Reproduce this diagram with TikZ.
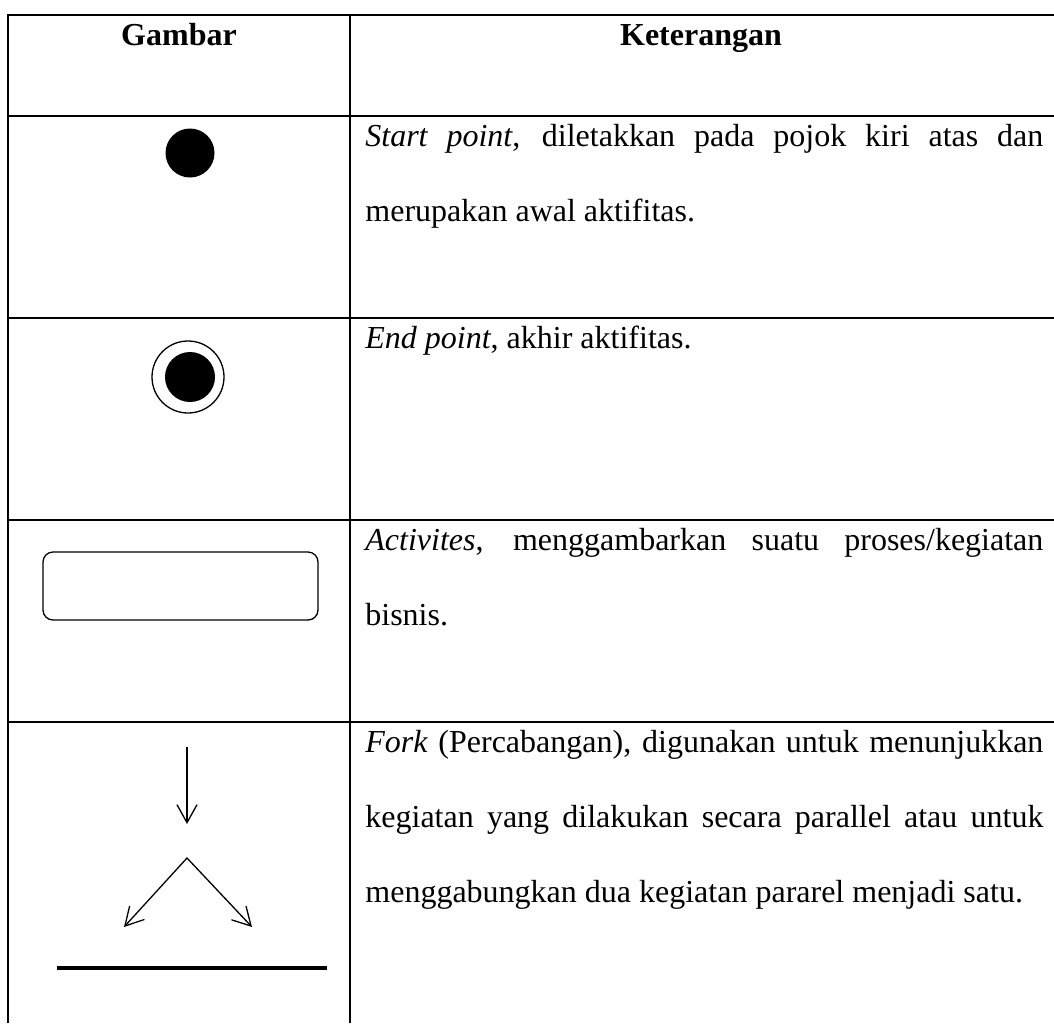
\documentclass[tikz,border=0pt]{standalone}
\usepackage{fontspec}
\setmainfont{Liberation Serif}
\usetikzlibrary{arrows.meta}
\begin{document}
\begin{tikzpicture}[x=0.5pt,y=-0.5pt,
  gridline/.style={line width=1pt, line join=miter},
  shapeline/.style={line width=0.65pt},
  txt/.style={anchor=base west, inner sep=0pt, font=\fontsize{16}{20}\selectfont},
  hdr/.style={anchor=base, inner sep=0pt, font=\fontsize{16}{20}\selectfont\bfseries},
  barb/.tip={Straight Barb[length=9pt,width=10pt,line width=0.65pt]},
  arr/.style={shapeline, -barb},
  twoarr/.style={shapeline, line join=miter, barb-barb}]
\useasboundingbox (0,0) rectangle (1054,1023);
% table grid
\coordinate (tl) at (8,15);
\coordinate (bl) at (8,1023);
\coordinate (tr) at (1054,15);
\coordinate (dt) at (350,15);
\coordinate (db) at (350,1023);
\draw[gridline] (bl) -- (tl) -- (tr);
\draw[gridline] (dt) -- (db);
\foreach \y/\n in {116/a,318/b,520/c,722/d}{
  \coordinate (l\n) at (8,\y);
  \coordinate (r\n) at (1054,\y);
  \draw[gridline] (l\n) -- (r\n);
}
% headers
\node[hdr] (h1) at (179,45) {Gambar};
\node[hdr] (h2) at (701,45) {Keterangan};
% row texts
\node[txt] (t1a) at (365,146) {\makebox[339pt][s]{\textit{Start point}, diletakkan pada pojok kiri atas dan}};
\node[txt] (t1b) at (365,221) {merupakan awal aktifitas.};
\node[txt] (t2a) at (365,348) {\textit{End point}, akhir aktifitas.};
\node[txt] (t3a) at (365,550) {\makebox[339pt][s]{\textit{Activites}, menggambarkan suatu proses/kegiatan}};
\node[txt] (t3b) at (365,625) {bisnis.};
\node[txt] (t4a) at (365,752) {\makebox[339pt][s]{\textit{Fork} (Percabangan), digunakan untuk menunjukkan}};
\node[txt] (t4b) at (365,827) {\makebox[339pt][s]{kegiatan yang dilakukan secara parallel atau untuk}};
\node[txt] (t4c) at (365,902) {menggabungkan dua kegiatan pararel menjadi satu.};
% start point
\node[circle, fill=black, inner sep=0pt, minimum size=24.5pt] (start) at (190,153) {};
% end point
\node[circle, draw, shapeline, inner sep=0pt, minimum size=36pt] (endo) at (188,377) {};
\node[circle, fill=black, inner sep=0pt, minimum size=25pt] (endi) at (190,377) {};
% activity
\node[draw, shapeline, rounded corners=5pt, inner sep=0pt, minimum width=137.5pt, minimum height=34pt] (act) at (180.5,586) {};
% fork
\coordinate (f0) at (187,747);
\coordinate (f1) at (187,824);
\coordinate (apex) at (187,858);
\coordinate (fl) at (124,927);
\coordinate (fr) at (252,927);
\coordinate (b0) at (57,968);
\coordinate (b1) at (327,968);
\draw[arr] (f0) -- (f1);
\draw[twoarr] (fl) -- (apex) -- (fr);
\draw[line width=1.75pt] (b0) -- (b1);
\end{tikzpicture}
\end{document}
